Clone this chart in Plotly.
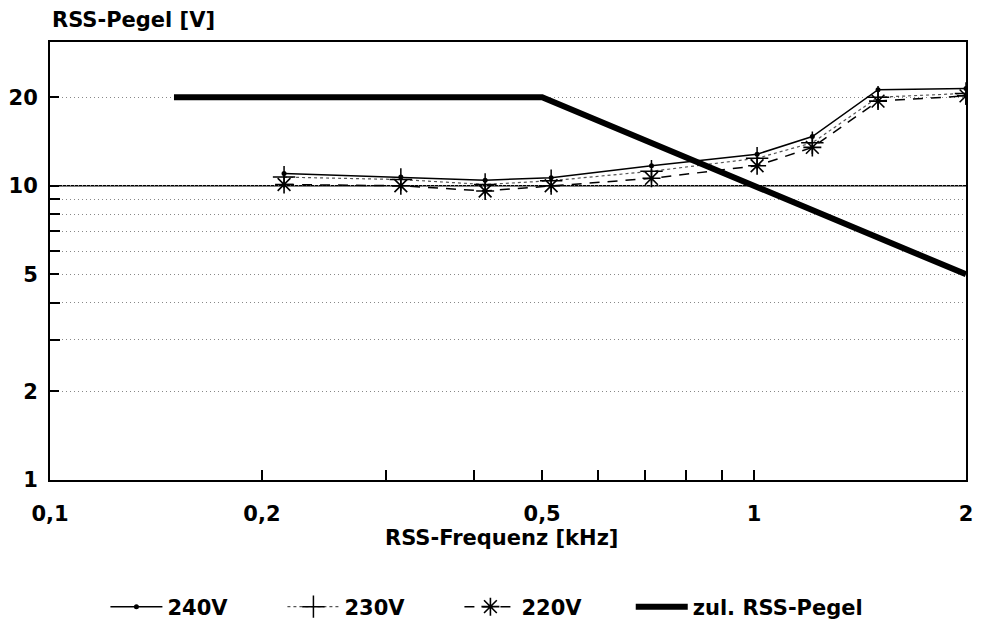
import plotly.graph_objects as go

# ---- data ----
freq = [0.215, 0.315, 0.415, 0.515, 0.715, 1.01, 1.21, 1.5, 2.0]
v240 = [11.0, 10.7, 10.45, 10.65, 11.7, 12.8, 14.7, 21.2, 21.4]
v230 = [10.7, 10.5, 10.1, 10.4, 11.2, 12.4, 14.0, 20.0, 20.6]
v220 = [10.1, 10.0, 9.6, 10.0, 10.6, 11.7, 13.5, 19.4, 20.2]
zul_freq = [0.15, 0.5, 2.0]
zul_val = [20, 20, 5]

x_tickvals = [0.1, 0.2, 0.5, 1, 2]
x_ticktext = ["0,1", "0,2", "0,5", "1", "2"]
x_minor = [0.3, 0.4, 0.6, 0.7, 0.8, 0.9]
y_tickvals = [1, 2, 5, 10, 20]
y_ticktext = ["1", "2", "5", "10", "20"]
y_minor = [3, 4, 6, 7, 8, 9]

FONT = "DejaVu Sans"
FS = 21

fig = go.Figure()
fig.add_trace(go.Scatter(
    x=freq, y=v240, name="240V", mode="lines+markers", legend="legend",
    line=dict(color="black", width=1.5),
    marker=dict(symbol="circle", size=5, color="black"),
))
fig.add_trace(go.Scatter(
    x=freq, y=v230, name="230V", mode="lines+markers", legend="legend",
    line=dict(color="#555", width=1.2, dash="dot"),
    marker=dict(symbol="cross-thin", size=16, color="black",
                line=dict(color="black", width=1.5)),
))
fig.add_trace(go.Scatter(
    x=freq, y=v220, name="220V", mode="lines+markers", legend="legend",
    line=dict(color="black", width=1.5, dash="10px,8px"),
    marker=dict(symbol="asterisk", size=15, color="black",
                line=dict(color="black", width=1.6)),
))
fig.add_trace(go.Scatter(
    x=zul_freq, y=zul_val, name="zul. RSS-Pegel", mode="lines", legend="legend2",
    line=dict(color="black", width=6),
))

# solid reference line at 10 V
fig.add_shape(type="line", xref="paper", x0=0, x1=1, yref="y", y0=10, y1=10,
              line=dict(color="black", width=1.5), layer="below")

fig.update_xaxes(
    type="log", range=[-1, 0.30103],
    tickmode="array", tickvals=x_tickvals, ticktext=x_ticktext,
    ticks="inside", ticklen=10, tickwidth=1.5, tickcolor="black",
    minor=dict(tickmode="array", tickvals=x_minor, ticks="inside",
               ticklen=10, tickwidth=1.5, tickcolor="black", showgrid=False),
    showgrid=False, showline=True, linecolor="black", linewidth=2, mirror=True,
    zeroline=False, ticklabelstandoff=14,
    tickfont=dict(family=FONT, size=FS, color="black", weight="bold"),
)
fig.update_yaxes(
    type="log", range=[0, 1.4886],
    tickmode="array", tickvals=y_tickvals, ticktext=y_ticktext,
    ticks="inside", ticklen=9, tickwidth=1.5, tickcolor="black",
    showgrid=True, gridcolor="#888", griddash="1px,3px", gridwidth=1,
    minor=dict(tickmode="array", tickvals=y_minor, ticks="inside",
               ticklen=10, tickwidth=2, tickcolor="black",
               showgrid=True, gridcolor="#888", griddash="1px,3px", gridwidth=1),
    showline=True, linecolor="black", linewidth=2, mirror=True,
    zeroline=False, ticklabelstandoff=6,
    tickfont=dict(family=FONT, size=FS, color="black", weight="bold"),
)

fig.add_annotation(text="RSS-Pegel [V]", xref="paper", yref="paper",
                   x=0, y=1.0513, xanchor="left", yanchor="middle", showarrow=False,
                   font=dict(family=FONT, size=FS, color="black", weight="bold"))
fig.add_annotation(text="RSS-Frequenz [kHz]", xref="paper", yref="paper",
                   x=0.4924, y=-0.1317, xanchor="center", yanchor="middle", showarrow=False,
                   font=dict(family=FONT, size=FS, color="black", weight="bold"))

legend_font = dict(family=FONT, size=FS, color="black", weight="bold")
fig.update_layout(
    width=982, height=636,
    margin=dict(l=47, r=9, t=42, b=146),
    paper_bgcolor="white", plot_bgcolor="white",
    font=dict(family=FONT, size=FS, color="black", weight="bold"),
    showlegend=True,
    legend=dict(orientation="h", x=0.0605, xanchor="left", y=-0.290, yanchor="middle",
                font=legend_font, entrywidth=110, entrywidthmode="pixels",
                bgcolor="rgba(0,0,0,0)", itemwidth=52),
    legend2=dict(orientation="h", x=0.6340, xanchor="left", y=-0.290, yanchor="middle",
                 font=legend_font, bgcolor="rgba(0,0,0,0)", itemwidth=52),
)

fig.write_html("out.html")
